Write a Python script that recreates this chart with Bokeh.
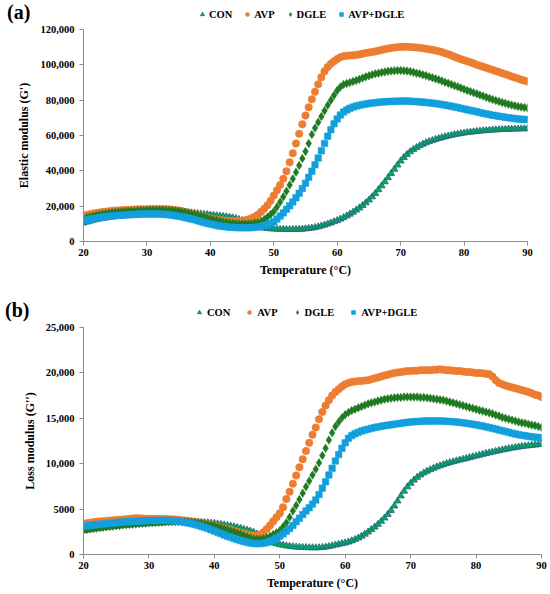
import numpy as np
from bokeh.plotting import figure
from bokeh.layouts import column
from bokeh.models import (Legend, LegendItem, FixedTicker, NumeralTickFormatter,
                          ColumnDataSource, Range1d)
from bokeh.embed import file_html
from bokeh.resources import INLINE

# Temperature grid (°C), one reading every 0.5 °C from 20 to 90
temperature = [20 + 0.5 * i for i in range(141)]

series_names = ["CON", "AVP", "DGLE", "AVP+DGLE"]
panel_tags = ["(a)", "(b)"]

# ---- (a) Elastic modulus G' (values in thousands) ----
g1_con_k = [
    10.5, 11.0, 11.5, 12.0, 12.4, 12.8, 13.1, 13.4, 13.7, 14.0,
    14.2, 14.4, 14.6, 14.8, 15.0, 15.2, 15.3, 15.5, 15.6, 15.7,
    15.8, 15.9, 16.0, 16.1, 16.2, 16.3, 16.4, 16.4, 16.5, 16.5,
    16.5, 16.5, 16.4, 16.3, 16.2, 16.0, 15.8, 15.6, 15.4, 15.2,
    15.0, 14.8, 14.6, 14.4, 14.2, 14.0, 13.7, 13.4, 13.0, 12.5,
    11.9, 11.2, 10.4, 9.6, 8.9, 8.3, 7.9, 7.6, 7.4, 7.2,
    7.1, 7.0, 6.9, 6.9, 6.8, 6.8, 6.8, 6.9, 6.9, 7.0,
    7.2, 7.4, 7.6, 7.9, 8.3, 8.8, 9.3, 9.9, 10.5, 11.2,
    11.9, 12.7, 13.5, 14.5, 15.5, 16.6, 17.8, 19.0, 20.4, 21.9,
    23.5, 25.3, 27.2, 29.3, 31.5, 33.8, 36.1, 38.5, 40.9, 43.3,
    45.6, 47.6, 49.3, 50.8, 52.1, 53.2, 54.2, 55.1, 55.9, 56.6,
    57.2, 57.8, 58.3, 58.8, 59.3, 59.7, 60.1, 60.5, 60.8, 61.1,
    61.4, 61.7, 61.9, 62.1, 62.3, 62.5, 62.7, 62.8, 63.0, 63.1,
    63.2, 63.3, 63.4, 63.5, 63.6, 63.6, 63.7, 63.7, 63.8, 63.8,
    63.9,
]
g1_avp_k = [
    14.5, 15.0, 15.4, 15.8, 16.1, 16.4, 16.7, 16.9, 17.1, 17.3,
    17.5, 17.6, 17.7, 17.8, 17.9, 18.0, 18.1, 18.2, 18.2, 18.3,
    18.3, 18.4, 18.4, 18.4, 18.4, 18.4, 18.3, 18.2, 18.0, 17.8,
    17.5, 17.2, 16.8, 16.4, 16.0, 15.5, 15.0, 14.5, 14.0, 13.5,
    13.1, 12.7, 12.4, 12.1, 11.9, 11.7, 11.6, 11.5, 11.5, 11.5,
    11.7, 12.0, 12.5, 13.2, 14.0, 15.2, 16.8, 18.5, 20.5, 23.0,
    26.0, 29.0, 32.0, 35.5, 39.8, 44.8, 50.0, 55.5, 61.0, 66.3,
    71.3, 76.0, 80.5, 84.8, 89.0, 93.0, 96.3, 98.8, 100.6, 102.0,
    103.3, 104.3, 104.9, 105.2, 105.3, 105.4, 105.6, 105.9, 106.3, 106.7,
    107.0, 107.3, 107.6, 108.0, 108.4, 108.8, 109.2, 109.5, 109.8, 110.0,
    110.1, 110.2, 110.2, 110.1, 110.0, 109.8, 109.6, 109.4, 109.1, 108.8,
    108.5, 108.1, 107.7, 107.2, 106.6, 106.0, 105.3, 104.6, 103.9, 103.2,
    102.6, 102.0, 101.4, 100.8, 100.1, 99.5, 98.9, 98.3, 97.7, 97.1,
    96.5, 95.9, 95.3, 94.7, 94.1, 93.4, 92.8, 92.2, 91.6, 91.1,
    90.6,
]
g1_dgle_k = [
    13.0, 13.5, 14.0, 14.4, 14.8, 15.2, 15.5, 15.8, 16.1, 16.3,
    16.5, 16.7, 16.9, 17.0, 17.1, 17.2, 17.3, 17.4, 17.5, 17.6,
    17.7, 17.7, 17.8, 17.8, 17.8, 17.8, 17.7, 17.6, 17.5, 17.3,
    17.1, 16.8, 16.5, 16.1, 15.7, 15.3, 14.8, 14.3, 13.8, 13.3,
    12.8, 12.3, 11.9, 11.5, 11.1, 10.8, 10.5, 10.3, 10.1, 10.0,
    9.9, 9.9, 9.9, 10.0, 10.3, 10.8, 11.5, 12.5, 13.8, 15.3,
    17.0, 19.5, 22.3, 25.3, 28.5, 32.0, 35.5, 39.2, 43.0, 47.0,
    51.0, 55.5, 60.5, 64.2, 67.5, 70.8, 74.0, 77.1, 80.0, 82.8,
    85.5, 87.5, 88.8, 89.5, 90.0, 90.6, 91.2, 91.8, 92.5, 93.2,
    93.8, 94.4, 94.9, 95.3, 95.7, 96.0, 96.3, 96.5, 96.7, 96.8,
    96.8, 96.7, 96.5, 96.2, 95.8, 95.3, 94.9, 94.4, 93.9, 93.3,
    92.7, 92.1, 91.5, 90.9, 90.2, 89.6, 88.9, 88.2, 87.6, 86.9,
    86.2, 85.5, 84.9, 84.2, 83.6, 82.9, 82.3, 81.6, 81.0, 80.4,
    79.8, 79.3, 78.7, 78.2, 77.7, 77.2, 76.8, 76.4, 76.1, 75.8,
    75.6,
]
g1_mix_k = [
    11.8, 12.2, 12.6, 12.9, 13.2, 13.5, 13.8, 14.0, 14.2, 14.4,
    14.6, 14.8, 14.9, 15.0, 15.1, 15.2, 15.3, 15.4, 15.5, 15.5,
    15.6, 15.6, 15.6, 15.6, 15.5, 15.4, 15.3, 15.1, 14.9, 14.6,
    14.3, 14.0, 13.6, 13.2, 12.8, 12.3, 11.8, 11.3, 10.8, 10.3,
    9.9, 9.5, 9.1, 8.8, 8.5, 8.3, 8.1, 8.0, 7.9, 7.8,
    7.8, 7.8, 7.8, 7.9, 8.0, 8.2, 8.6, 9.1, 9.6, 10.3,
    11.2, 12.7, 14.4, 16.2, 18.2, 20.2, 22.4, 24.8, 27.3, 30.0,
    33.0, 36.3, 39.8, 43.4, 47.2, 51.3, 55.5, 59.6, 63.3, 66.6,
    69.4, 71.6, 73.3, 74.5, 75.4, 76.1, 76.7, 77.1, 77.5, 77.8,
    78.1, 78.4, 78.6, 78.8, 79.0, 79.1, 79.2, 79.3, 79.4, 79.4,
    79.5, 79.5, 79.5, 79.4, 79.3, 79.2, 79.0, 78.9, 78.7, 78.5,
    78.3, 78.1, 77.8, 77.5, 77.2, 76.9, 76.6, 76.2, 75.8, 75.4,
    75.0, 74.6, 74.2, 73.8, 73.4, 73.0, 72.6, 72.2, 71.9, 71.5,
    71.2, 70.9, 70.6, 70.3, 70.1, 69.8, 69.6, 69.4, 69.2, 69.1,
    69.0,
]

# ---- (b) Loss modulus G'' (values in thousands) ----
g2_con_k = [
    2.65, 2.70, 2.75, 2.80, 2.85, 2.90, 2.95, 3.00, 3.04, 3.08,
    3.12, 3.16, 3.20, 3.23, 3.26, 3.29, 3.32, 3.35, 3.38, 3.40,
    3.42, 3.44, 3.46, 3.48, 3.50, 3.52, 3.54, 3.55, 3.56, 3.57,
    3.58, 3.58, 3.58, 3.58, 3.57, 3.56, 3.54, 3.52, 3.49, 3.46,
    3.42, 3.37, 3.32, 3.26, 3.20, 3.13, 3.05, 2.97, 2.88, 2.78,
    2.68, 2.58, 2.45, 2.25, 2.00, 1.75, 1.55, 1.40, 1.28, 1.18,
    1.10, 1.02, 0.95, 0.90, 0.86, 0.82, 0.80, 0.78, 0.76, 0.75,
    0.74, 0.74, 0.75, 0.78, 0.82, 0.88, 0.96, 1.04, 1.12, 1.20,
    1.28, 1.38, 1.50, 1.65, 1.82, 2.02, 2.24, 2.48, 2.75, 3.02,
    3.32, 3.66, 4.02, 4.42, 4.85, 5.35, 5.90, 6.45, 6.98, 7.45,
    7.85, 8.20, 8.50, 8.76, 8.98, 9.17, 9.34, 9.50, 9.65, 9.78,
    9.90, 10.02, 10.12, 10.22, 10.31, 10.40, 10.49, 10.58, 10.67, 10.76,
    10.85, 10.94, 11.03, 11.12, 11.20, 11.28, 11.36, 11.44, 11.52, 11.59,
    11.66, 11.72, 11.78, 11.84, 11.89, 11.94, 11.98, 12.02, 12.06, 12.10,
    12.14,
]
g2_avp_k = [
    3.40, 3.45, 3.50, 3.55, 3.60, 3.63, 3.66, 3.70, 3.73, 3.76,
    3.79, 3.82, 3.85, 3.88, 3.92, 3.97, 4.00, 3.98, 3.96, 3.95,
    3.94, 3.93, 3.92, 3.92, 3.91, 3.90, 3.89, 3.87, 3.85, 3.82,
    3.78, 3.74, 3.70, 3.65, 3.60, 3.54, 3.48, 3.41, 3.34, 3.26,
    3.18, 3.09, 3.00, 2.90, 2.80, 2.70, 2.60, 2.50, 2.40, 2.30,
    2.20, 2.12, 2.08, 2.10, 2.20, 2.45, 2.80, 3.20, 3.65, 4.10,
    4.55, 5.20, 6.10, 6.90, 7.80, 8.70, 9.60, 10.50, 11.40, 12.30,
    13.20, 14.00, 14.90, 15.70, 16.40, 17.00, 17.50, 17.90, 18.20, 18.50,
    18.75, 18.90, 19.00, 19.05, 19.10, 19.10, 19.15, 19.20, 19.30, 19.40,
    19.50, 19.60, 19.70, 19.80, 19.90, 20.00, 20.05, 20.10, 20.15, 20.20,
    20.20, 20.25, 20.25, 20.30, 20.30, 20.30, 20.30, 20.35, 20.35, 20.40,
    20.35, 20.30, 20.30, 20.25, 20.20, 20.20, 20.15, 20.10, 20.10, 20.05,
    20.00, 20.00, 19.95, 19.90, 19.85, 19.60, 19.20, 18.90, 18.75, 18.60,
    18.50, 18.40, 18.30, 18.20, 18.10, 18.00, 17.90, 17.75, 17.60, 17.50,
    17.35,
]
g2_dgle_k = [
    2.70, 2.75, 2.80, 2.85, 2.90, 2.95, 3.00, 3.04, 3.08, 3.12,
    3.16, 3.20, 3.24, 3.28, 3.31, 3.34, 3.37, 3.40, 3.42, 3.45,
    3.48, 3.50, 3.52, 3.54, 3.56, 3.58, 3.60, 3.61, 3.62, 3.62,
    3.62, 3.60, 3.58, 3.55, 3.52, 3.48, 3.43, 3.37, 3.30, 3.22,
    3.14, 3.05, 2.95, 2.84, 2.72, 2.60, 2.48, 2.36, 2.25, 2.10,
    1.95, 1.82, 1.72, 1.68, 1.68, 1.75, 1.85, 2.00, 2.20, 2.40,
    2.62, 3.05, 3.50, 4.10, 4.80, 5.40, 6.05, 6.75, 7.45, 8.10,
    8.75, 9.40, 10.10, 10.90, 11.70, 12.60, 13.40, 14.10, 14.60, 15.05,
    15.40, 15.65, 15.85, 16.00, 16.15, 16.30, 16.45, 16.60, 16.70, 16.80,
    16.90, 17.00, 17.10, 17.15, 17.20, 17.25, 17.30, 17.30, 17.35, 17.35,
    17.35, 17.35, 17.35, 17.30, 17.30, 17.25, 17.20, 17.15, 17.10, 17.05,
    17.00, 16.90, 16.80, 16.70, 16.60, 16.50, 16.40, 16.30, 16.20, 16.10,
    16.00, 15.90, 15.80, 15.70, 15.60, 15.50, 15.35, 15.25, 15.10, 15.00,
    14.90, 14.80, 14.70, 14.60, 14.50, 14.45, 14.35, 14.25, 14.20, 14.10,
    14.00,
]
g2_mix_k = [
    3.10, 3.15, 3.20, 3.24, 3.28, 3.32, 3.36, 3.40, 3.44, 3.48,
    3.51, 3.54, 3.57, 3.60, 3.62, 3.64, 3.66, 3.68, 3.70, 3.72,
    3.73, 3.74, 3.75, 3.76, 3.76, 3.76, 3.75, 3.73, 3.70, 3.66,
    3.61, 3.55, 3.48, 3.40, 3.31, 3.21, 3.10, 2.98, 2.85, 2.72,
    2.58, 2.44, 2.30, 2.16, 2.02, 1.89, 1.76, 1.64, 1.53, 1.43,
    1.34, 1.27, 1.22, 1.20, 1.20, 1.24, 1.32, 1.45, 1.60, 1.80,
    2.02, 2.27, 2.55, 2.85, 3.20, 3.60, 4.00, 4.40, 4.80, 5.15,
    5.55, 6.00, 6.60, 7.30, 8.00, 8.75, 9.50, 10.30, 11.00, 11.70,
    12.30, 12.80, 13.10, 13.30, 13.45, 13.60, 13.70, 13.80, 13.90, 13.98,
    14.05, 14.12, 14.18, 14.24, 14.30, 14.35, 14.40, 14.45, 14.50, 14.55,
    14.58, 14.62, 14.65, 14.67, 14.69, 14.70, 14.71, 14.71, 14.71, 14.70,
    14.69, 14.67, 14.65, 14.62, 14.59, 14.55, 14.50, 14.45, 14.40, 14.34,
    14.28, 14.21, 14.14, 14.06, 13.98, 13.90, 13.81, 13.72, 13.63, 13.54,
    13.45, 13.36, 13.28, 13.20, 13.13, 13.07, 13.01, 12.96, 12.92, 12.88,
    12.85,
]

x_ticks = [20, 30, 40, 50, 60, 70, 80, 90]
g1_ticks = [0, 20000, 40000, 60000, 80000, 100000, 120000]
g2_ticks = [0, 5000, 10000, 15000, 20000, 25000]

FONT = "Liberation Serif"
W = 550
styles = [
    dict(marker="triangle", size=7, fill_color="#00B050", line_color="#2A5C8F", line_width=0.8),
    dict(marker="circle", size=7.5, fill_color="#ED7D31", line_color="#ED7D31", line_width=0.5),
    dict(marker="diamond", size=8.5, fill_color="#1F7A22", line_color="#1F7A22", line_width=0.5),
    dict(marker="square", size=6.5, fill_color="#12A0DC", line_color="#12A0DC", line_width=0.5),
]


def sources_for(series_k):
    return [ColumnDataSource(dict(x=temperature, y=np.array(v) * 1000.0)) for v in series_k]


def make_header(height, sources, tag, tag_loc, legend_loc, spacing, standoff):
    h = figure(width=W, height=height, x_range=Range1d(0, W), y_range=Range1d(0, height),
               output_backend="svg", toolbar_location=None,
               x_axis_location=None, y_axis_location=None, frame_align=False,
               min_border_left=0, min_border_right=0, min_border_top=0, min_border_bottom=0)
    h.outline_line_color = None
    h.grid.visible = False
    items = []
    # same series as the panel; their values lie far outside this strip's range,
    # so only their legend symbols show
    for name, src, st in zip(series_names, sources, styles):
        r = h.scatter("x", "y", source=src, **st)
        items.append(LegendItem(label=name, renderers=[r]))
    legend = Legend(items=items, orientation="horizontal", location=legend_loc,
                    background_fill_alpha=0, border_line_color=None,
                    label_text_font=FONT, label_text_font_style="bold",
                    label_text_font_size="10.5px", label_text_color="#000000",
                    glyph_width=10, glyph_height=10, label_height=12,
                    label_standoff=standoff, spacing=spacing, padding=0, margin=0)
    h.add_layout(legend)
    # panel tag, drawn as a one-entry legend with an invisible symbol
    ghost = h.scatter("x", "y", source=sources[0], size=1, fill_alpha=0, line_alpha=0)
    tag_legend = Legend(items=[LegendItem(label=tag, renderers=[ghost])],
                        location=tag_loc, background_fill_alpha=0, border_line_color=None,
                        label_text_font=FONT, label_text_font_style="bold",
                        label_text_font_size="20px", label_text_color="#000000",
                        glyph_width=1, glyph_height=1, label_height=22,
                        label_standoff=0, padding=0, margin=0)
    h.add_layout(tag_legend)
    return h


def make_panel(sources, ymax, yticks, ylabel, height, borders, overrides):
    p = figure(width=W, height=height, x_range=(20, 90), y_range=(0, ymax),
               output_backend="svg", toolbar_location=None, frame_align=False,
               min_border_left=borders[0], min_border_right=borders[1],
               min_border_top=borders[2], min_border_bottom=borders[3])
    p.outline_line_color = None
    p.xgrid.visible = False
    p.ygrid.visible = False
    for src, st in zip(sources, styles):
        p.scatter("x", "y", source=src, **st)
    for ax in (p.xaxis[0], p.yaxis[0]):
        ax.axis_line_color = "#8C8C8C"
        ax.major_tick_line_color = "#8C8C8C"
        ax.major_tick_out = 4
        ax.major_tick_in = 0
        ax.minor_tick_line_color = None
        ax.major_label_text_font = FONT
        ax.major_label_text_font_style = "bold"
        ax.major_label_text_font_size = "10.5px"
        ax.major_label_text_color = "#000000"
        ax.axis_label_text_font = FONT
        ax.axis_label_text_font_style = "bold"
        ax.axis_label_text_font_size = "12px"
        ax.axis_label_text_color = "#000000"
    p.xaxis.ticker = FixedTicker(ticks=x_ticks)
    p.yaxis.ticker = FixedTicker(ticks=yticks)
    p.yaxis.formatter = NumeralTickFormatter(format="0,0")
    if overrides:
        p.yaxis.major_label_overrides = overrides
    p.xaxis.axis_label = "Temperature (°C)"
    p.yaxis.axis_label = ylabel
    p.xaxis.major_label_standoff = 3
    p.xaxis.axis_label_standoff = 4
    p.yaxis.major_label_standoff = 5
    p.yaxis.axis_label_standoff = 6
    return p


src1 = sources_for([g1_con_k, g1_avp_k, g1_dgle_k, g1_mix_k])
src2 = sources_for([g2_con_k, g2_avp_k, g2_dgle_k, g2_mix_k])

h1 = make_header(25, src1, panel_tags[0], (6, 1), (197, 5), 10, 2)
p1 = make_panel(src1, 120000, g1_ticks, "Elastic modulus (G')", 265, (83, 23, 4, 49), None)
h2 = make_header(33, src2, panel_tags[1], (4, 1), (194, 5), 14, 3)
p2 = make_panel(src2, 25000, g2_ticks, "Loss modulus (G'')", 271, (83, 9, 4, 40), {5000: "5000"})

layout = column(h1, p1, h2, p2, spacing=0)
open("out.html", "w").write(file_html(layout, INLINE))
